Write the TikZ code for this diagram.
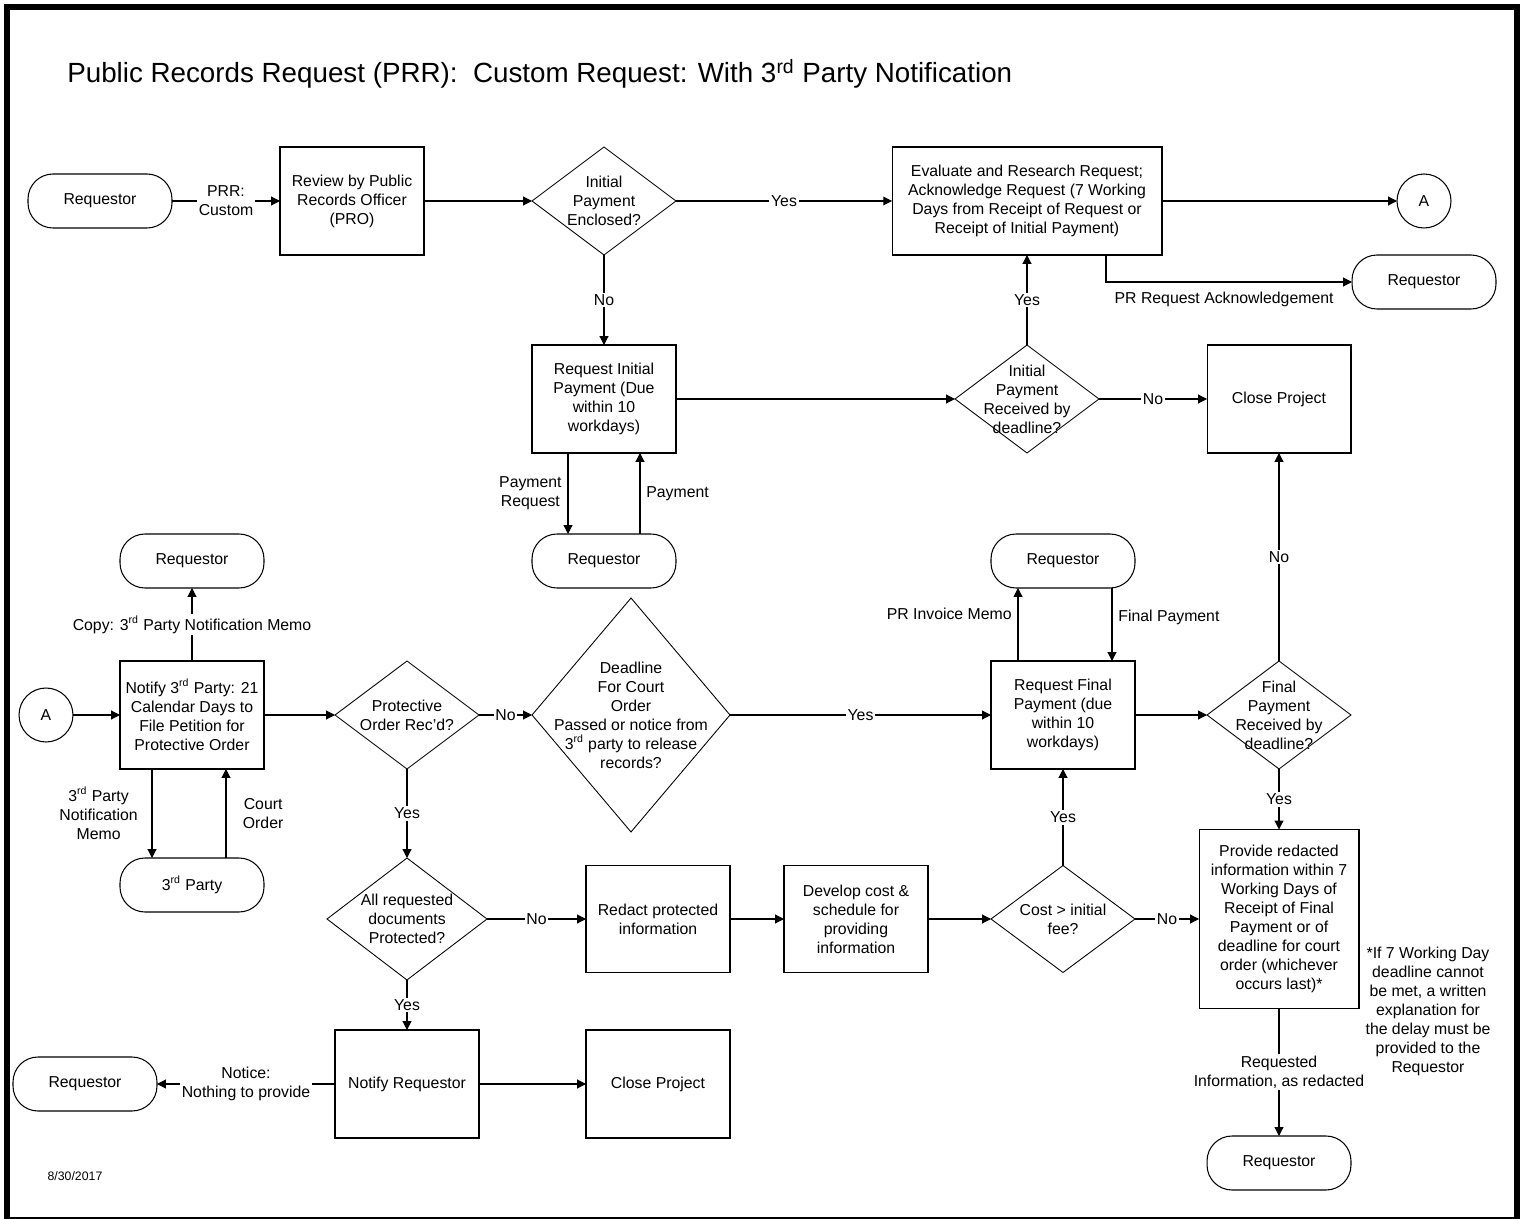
\documentclass[tikz,border=0pt]{standalone}
\usepackage{fontspec}
\setmainfont{Liberation Sans}
\usepackage{tikz}
\usetikzlibrary{arrows.meta,positioning,shapes.geometric}

\tikzset{
	proc/.style={draw, rectangle, line width=0.6pt, minimum width=2.88cm, minimum height=2.16cm, align=center, inner sep=1pt, outer sep=0pt},
	term/.style={draw, rectangle, rounded corners=0.5cm, line width=0.6pt, minimum width=2.88cm, minimum height=1.08cm, align=center, outer sep=0pt},
	decide/.style={draw, diamond, line width=0.5pt, minimum width=2.88cm, minimum height=2.16cm, inner sep=-1cm, align=center, outer sep=0pt},
	conn/.style={draw, circle, line width=0.6pt, minimum size=1.08cm, inner sep=0pt, outer sep=0pt},
	flow/.style={line width=0.6pt, -{Triangle[length=5pt,width=5pt]}},
	lbl/.style={fill=white, inner sep=1pt, align=center},
}

\begin{document}
\begin{tikzpicture}[x=0.02cm, y=-0.02cm, font=\fontsize{9}{10.8}\selectfont]

		\useasboundingbox (0,0) rectangle (1528,1219);
		\draw[line width=0.12cm] (7,7) rectangle (1517,1220);

		\node[anchor=west, inner sep=0pt, font=\fontsize{15.8}{19}\selectfont] (title) at (67,74) {Public Records Request (PRR):\ \ Custom Request: With 3\textsuperscript{rd} Party Notification};

		% top row
		\node[term] (rqA) at (100,201) {Requestor};
		\node[proc] (rev) at (352,201) {Review by Public\\Records Officer\\(PRO)};
		\node[decide] (encl) at (604,201) {Initial\\Payment\\Enclosed?};
		\node[proc, minimum width=5.4cm] (eval) at (1027,201) {Evaluate and Research Request;\\Acknowledge Request (7 Working\\Days from Receipt of Request or\\Receipt of Initial Payment)};
		\node[conn] (conA) at (1424,201) {A};
		\node[term] (rqAck) at (1424,282) {Requestor};

		% initial payment
		\node[proc] (ipay) at (604,399) {Request Initial\\Payment (Due\\within 10\\workdays)};
		\node[decide] (recv) at (1027,399) {Initial\\Payment\\Received by\\deadline?};
		\node[proc] (closeA) at (1279,399) {Close Project};
		\node[term] (rqPay) at (604,561) {Requestor};

		% third party notification
		\node[term] (rqCopy) at (192,561) {Requestor};
		\node[conn] (conB) at (46,715) {A};
		\node[proc] (notify) at (192,715) {Notify 3\textsuperscript{rd} Party: 21\\Calendar Days to\\File Petition for\\Protective Order};
		\node[term] (third) at (192,885) {3\textsuperscript{rd} Party};
		\node[decide] (prot) at (407,715) {Protective\\Order Rec'd?};
		\node[decide, minimum width=3.96cm, minimum height=4.68cm] (court) at (631,715) {Deadline\\For Court\\Order\\Passed or notice from\\3\textsuperscript{rd} party to release\\records?};

		% final payment
		\node[term] (rqFin) at (1063,561) {Requestor};
		\node[proc] (fpay) at (1063,715) {Request Final\\Payment (due\\within 10\\workdays)};
		\node[decide] (frecv) at (1279,715) {Final\\Payment\\Received by\\deadline?};

		% redaction
		\node[decide, minimum width=3.2cm, minimum height=2.44cm] (docs) at (407,919) {All requested\\documents\\Protected?};
		\node[proc, minimum height=2.14cm] (redact) at (658,919) {Redact protected\\information};
		\node[proc, minimum height=2.14cm] (devel) at (856,919) {Develop cost \&\\schedule for\\providing\\information};
		\node[decide, minimum height=2.14cm] (cost) at (1063,919) {Cost > initial\\fee?};
		\node[proc, minimum width=3.2cm, minimum height=3.58cm] (provide) at (1279,919) {Provide redacted\\information within 7\\Working Days of\\Receipt of Final\\Payment or of\\deadline for court\\order (whichever\\occurs last)*};
		\node[align=center] (note) at (1428,1011) {*If 7 Working Day\\deadline cannot\\be met, a written\\explanation for\\the delay must be\\provided to the\\Requestor};
		\node[term] (rqInfo) at (1279,1163) {Requestor};

		% nothing to provide
		\node[proc] (notreq) at (407,1084) {Notify Requestor};
		\node[proc] (closeB) at (658,1084) {Close Project};
		\node[term] (rqNot) at (85,1084) {Requestor};

		\node[font=\fontsize{7}{8.4}\selectfont] (date) at (75,1176) {8/30/2017};

		% connectors
		\draw[flow] (rqA) -- node[lbl, midway] {PRR:\\Custom} (rev);
		\draw[flow] (rev) -- (encl);
		\draw[flow] (encl) -- node[lbl, midway] {Yes} (eval);
		\draw[flow] (eval) -- (conA);
		\draw[flow] ([xshift=1.58cm]eval.south) |- node[pos=0.74, below=2pt] {PR Request Acknowledgement} (rqAck.west);
		\draw[flow] (encl) -- node[lbl, midway] {No} (ipay);
		\draw[flow] (ipay) -- (recv);
		\draw[flow] (recv) -- node[lbl, midway] {No} (closeA);
		\draw[flow] (recv) -- node[lbl, midway] {Yes} (eval);
		\draw[flow] ([xshift=-0.72cm]ipay.south) -- node[midway, left, align=center] {Payment\\Request} ([xshift=-0.72cm]rqPay.north);
		\draw[flow] ([xshift=0.72cm]rqPay.north) -- node[midway, right] {Payment} ([xshift=0.72cm]ipay.south);

		\draw[flow] (conB) -- (notify);
		\draw[flow] (notify) -- node[lbl, midway] {Copy: 3\textsuperscript{rd} Party Notification Memo} (rqCopy);
		\draw[flow] ([xshift=-0.8cm]notify.south) -- node[midway, left=4.5pt, align=center] {3\textsuperscript{rd} Party\\Notification\\Memo} ([xshift=-0.8cm]third.north);
		\draw[flow] ([xshift=0.68cm]third.north) -- node[midway, right=6pt, align=center] {Court\\Order} ([xshift=0.68cm]notify.south);
		\draw[flow] (notify) -- (prot);
		\draw[flow] (prot) -- node[lbl, midway] {No} (court);
		\draw[flow] (court) -- node[lbl, midway] {Yes} (fpay);
		\draw[flow] (fpay) -- (frecv);
		\draw[flow] ([xshift=-0.9cm]fpay.north) -- node[pos=0.65, left] {PR Invoice Memo} ([xshift=-0.9cm]rqFin.south);
		\draw[flow] ([xshift=0.98cm]rqFin.south) -- node[pos=0.4, right] {Final Payment} ([xshift=0.98cm]fpay.north);
		\draw[flow] (frecv) -- node[lbl, midway] {No} (closeA);

		\draw[flow] (prot) -- node[lbl, midway] {Yes} (docs);
		\draw[flow] (docs) -- node[lbl, midway] {No} (redact);
		\draw[flow] (redact) -- (devel);
		\draw[flow] (devel) -- (cost);
		\draw[flow] (cost) -- node[lbl, midway] {Yes} (fpay);
		\draw[flow] (cost) -- node[lbl, midway] {No} (provide);
		\draw[flow] (frecv) -- node[lbl, midway] {Yes} (provide);
		\draw[flow] (provide) -- node[lbl, midway] {Requested\\Information, as redacted} (rqInfo);

		\draw[flow] (docs) -- node[lbl, midway] {Yes} (notreq);
		\draw[flow] (notreq) -- (closeB);
		\draw[flow] (notreq) -- node[lbl, midway] {Notice:\\Nothing to provide} (rqNot);

\end{tikzpicture}
\end{document}
